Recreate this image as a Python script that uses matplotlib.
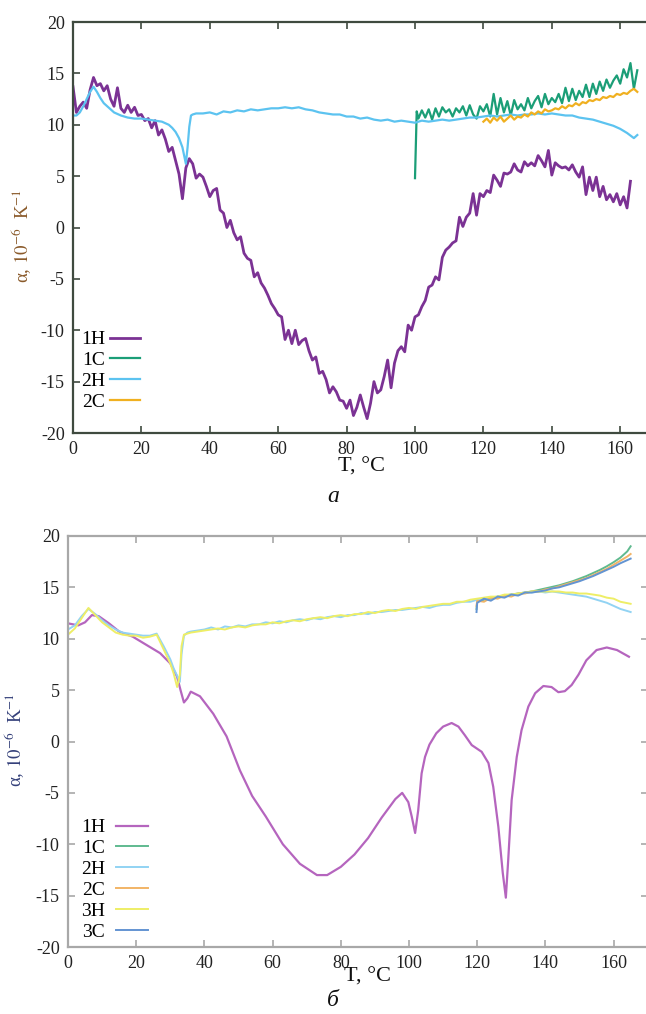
import matplotlib

matplotlib.use("Agg")
import matplotlib.pyplot as plt

# ---- panel a ----
a_1h_t = list(range(0, 164))
a_1h = [13.7, 11.2, 11.8, 12.2, 11.6, 13.4, 14.6, 13.8, 14.0, 13.3,
        13.8, 12.5, 11.8, 13.6, 11.6, 11.2, 11.9, 11.2, 11.7, 10.9,
        11.0, 10.4, 10.6, 9.7, 10.4, 9.0, 9.5, 8.6, 7.4, 7.8,
        6.5, 5.2, 2.8, 5.8, 6.7, 6.2, 4.8, 5.2, 4.9, 4.0,
        3.0, 3.6, 3.8, 1.7, 1.4, 0.0, 0.7, -0.5, -1.2, -0.9,
        -2.5, -3.0, -3.2, -4.8, -4.4, -5.4, -5.9, -6.6, -7.4, -7.9,
        -8.5, -8.7, -10.9, -10.0, -11.3, -10.0, -11.4, -11.0, -10.8, -12.0,
        -12.9, -12.6, -14.2, -14.0, -14.8, -16.1, -15.5, -16.0, -16.8, -16.9,
        -17.6, -16.8, -18.3, -17.5, -16.3, -17.5, -18.6, -17.1, -15.0, -16.1,
        -15.8, -14.5, -12.9, -15.6, -13.2, -12.0, -11.6, -12.1, -9.5, -10.0,
        -8.7, -8.5, -7.7, -7.1, -5.8, -5.6, -4.8, -5.1, -2.9, -2.2,
        -1.9, -1.5, -1.3, 1.0, 0.1, 1.0, 1.4, 3.3, 1.2, 3.3,
        3.0, 3.6, 3.4, 5.1, 4.6, 4.0, 5.3, 5.2, 5.4, 6.2,
        5.6, 5.4, 6.4, 6.0, 6.3, 6.0, 7.0, 6.5, 5.9, 7.5,
        5.1, 6.3, 6.0, 5.8, 5.9, 5.6, 6.1, 5.4, 4.9, 5.9,
        3.2, 4.9, 3.6, 4.9, 3.0, 4.0, 2.7, 3.2, 2.5, 3.3,
        2.2, 3.0, 1.9, 4.5]

a_2h_t = [0, 1, 2, 3, 4, 5, 6, 7, 8, 9, 10, 12, 14, 16, 18, 20, 22, 24, 26, 28,
          29, 30, 31, 32, 32.5, 33, 33.5, 34, 34.5, 35, 36] + list(range(38, 166, 2)) + [165]
a_2h = [10.9, 10.9, 11.2, 11.8, 12.5, 13.2, 13.7, 13.2, 12.6, 12.1,
        11.8, 11.2, 10.9, 10.7, 10.6, 10.6, 10.5, 10.4, 10.3, 10.0,
        9.7, 9.3, 8.7, 7.8, 7.0, 6.2, 7.8, 9.8, 10.9, 11.0, 11.1,
        11.1, 11.2, 11.0, 11.3, 11.2, 11.4, 11.3, 11.5, 11.4, 11.5,
        11.6, 11.6, 11.7, 11.6, 11.7, 11.5, 11.4, 11.2, 11.1, 11.0,
        11.0, 10.8, 10.8, 10.6, 10.7, 10.5, 10.4, 10.5, 10.3, 10.4,
        10.3, 10.2, 10.4, 10.3, 10.4, 10.5, 10.4, 10.5, 10.6, 10.7,
        10.7, 10.8, 10.9, 10.8, 10.9, 11.0, 10.9, 11.0, 11.0, 11.1,
        11.0, 11.1, 11.0, 10.9, 10.9, 10.7, 10.6, 10.5, 10.3, 10.1,
        9.9, 9.6, 9.2, 8.7, 9.0]

a_1c_t = [100, 100.5] + list(range(101, 166))
a_1c = [4.8, 11.3,
        10.6, 11.4, 10.7, 11.5, 10.5, 11.6, 10.8, 11.7, 11.2, 11.5,
        10.8, 11.6, 11.2, 11.8, 10.9, 11.9, 11.0, 10.6, 11.8, 11.3,
        12.0, 10.8, 13.0, 11.0, 12.6, 11.2, 12.3, 10.9, 12.4, 11.5,
        12.0, 11.4, 12.6, 11.6, 12.3, 12.8, 11.7, 13.0, 12.0, 12.6,
        12.2, 13.0, 12.1, 13.6, 12.3, 13.5, 12.4, 13.3, 12.7, 13.9,
        12.7, 14.0, 13.0, 14.2, 13.3, 14.4, 13.6, 14.3, 14.8, 14.0,
        15.4, 14.6, 16.0, 13.5, 15.3]

a_2c_t = list(range(120, 166))
a_2c = [10.3, 10.6, 10.2, 10.7, 10.4, 10.8, 10.3, 10.6, 10.9, 10.5,
        10.8, 10.7, 11.0, 10.8, 11.2, 11.0, 11.3, 11.1, 11.5, 11.3,
        11.4, 11.6, 11.5, 11.8, 11.6, 11.9, 11.8, 12.1, 11.9, 12.2,
        12.1, 12.4, 12.3, 12.5, 12.4, 12.7, 12.6, 12.8, 12.7, 13.0,
        12.9, 13.1, 13.0, 13.3, 13.5, 13.2]

# ---- panel б ----
b_1h_t = [0, 3, 5, 7, 9, 12, 15, 19, 23, 27, 30, 32, 33, 34, 35, 36, 38.7, 42.6,
          46.5, 50.4, 54, 58, 63, 68, 73, 76, 80, 84, 88, 92, 96, 98, 99.8, 100.8,
          101.8, 102.7, 103.7, 104.7, 106, 108, 110, 112.5, 114.5, 116.4, 118.4,
          121.3, 123.3, 124.7, 126.2, 127.5, 128.4, 129.1, 130.1, 131.6, 133, 135,
          137, 139.4, 141.8, 143.8, 145.7, 147.7, 149.7, 152, 155, 158, 161, 164.5]
b_1h = [11.5, 11.3, 11.6, 12.3, 12.2, 11.5, 10.7, 10.2, 9.4, 8.6, 7.6, 6.3, 5.0,
        3.8, 4.2, 4.85, 4.4, 2.7, 0.5, -2.8, -5.3, -7.3, -10.0, -11.9, -13.0,
        -13.0, -12.2, -11.0, -9.4, -7.4, -5.6, -5.0, -5.9, -7.3, -8.9, -6.7, -3.1,
        -1.5, -0.3, 0.8, 1.45, 1.8, 1.45, 0.6, -0.35, -1.0, -2.1, -4.4, -8.3,
        -12.8, -15.2, -11.5, -5.7, -1.5, 1.1, 3.4, 4.7, 5.4, 5.3, 4.8, 4.9, 5.5,
        6.5, 7.9, 8.9, 9.15, 8.9, 8.25]

b_h_t = [0, 2, 4, 6, 8, 10, 12, 14, 16, 18, 20, 22, 24, 26, 28, 30, 31, 32, 32.8,
         33.3, 34, 35, 36] + list(range(38, 164, 2)) + [165]
b_2h = [10.9, 11.3, 12.2, 12.9, 12.4, 11.8, 11.3, 10.9, 10.6, 10.5, 10.4, 10.3,
        10.3, 10.5, 9.3, 8.0, 7.1, 6.4, 5.8, 8.5, 10.3, 10.6, 10.7,
        10.8, 10.9, 11.1, 10.9, 11.2, 11.1, 11.3, 11.2, 11.4, 11.4,
        11.6, 11.5, 11.7, 11.6, 11.8, 11.9, 11.8, 12.0, 11.9, 12.1,
        12.2, 12.1, 12.3, 12.3, 12.5, 12.4, 12.6, 12.6, 12.7, 12.8,
        12.8, 12.9, 13.0, 13.1, 13.0, 13.2, 13.3, 13.3, 13.5, 13.6,
        13.6, 13.8, 13.9, 14.0, 14.1, 14.2, 14.3, 14.4, 14.5, 14.5,
        14.6, 14.5, 14.6, 14.5, 14.4, 14.3, 14.2, 14.1, 13.9, 13.7,
        13.5, 13.2, 12.9, 12.6]
b_3h = [10.4, 11.0, 12.0, 13.0, 12.3, 11.6, 11.1, 10.6, 10.4, 10.3, 10.3, 10.1,
        10.2, 10.4, 9.0, 7.6, 6.6, 5.3, 6.5, 9.3, 10.4, 10.5, 10.6,
        10.7, 10.8, 10.9, 11.0, 10.9, 11.1, 11.2, 11.1, 11.3, 11.4,
        11.4, 11.6, 11.5, 11.7, 11.8, 11.7, 11.9, 12.0, 12.1, 12.0,
        12.2, 12.3, 12.2, 12.4, 12.4, 12.6, 12.5, 12.7, 12.8, 12.7,
        12.9, 13.0, 12.9, 13.1, 13.2, 13.3, 13.4, 13.4, 13.6, 13.6,
        13.8, 13.9, 14.0, 14.1, 14.1, 14.3, 14.3, 14.4, 14.5, 14.6,
        14.6, 14.6, 14.6, 14.6, 14.5, 14.5, 14.4, 14.4, 14.3, 14.2,
        14.0, 13.9, 13.6, 13.4]

b_c_t = [119.8] + list(range(120, 166, 2)) + [165]
b_1c = [12.9, 13.6, 13.8, 13.9, 14.1, 14.2, 14.3, 14.4, 14.5, 14.6, 14.75, 14.9,
        15.05, 15.2, 15.4, 15.6, 15.85, 16.1, 16.4, 16.7, 17.05, 17.45, 17.9,
        18.5, 19.0]
b_2c = [13.2, 13.7, 13.6, 14.0, 13.9, 14.2, 14.1, 14.4, 14.4, 14.6, 14.6, 14.8,
        14.9, 15.1, 15.3, 15.5, 15.7, 15.9, 16.2, 16.5, 16.8, 17.2, 17.6,
        18.0, 18.25]
b_3c = [12.6, 13.5, 13.9, 13.7, 14.1, 14.0, 14.3, 14.2, 14.5, 14.5, 14.6, 14.7,
        14.9, 15.0, 15.2, 15.4, 15.6, 15.85, 16.1, 16.4, 16.7, 17.0, 17.35,
        17.65, 17.8]

x_ticks = list(range(0, 161, 20))
y_ticks = list(range(-20, 21, 5))

W, H = 646, 1014
plt.rcParams["font.family"] = ["Liberation Serif", "DejaVu Serif"]
plt.rcParams["mathtext.fontset"] = "stix"
plt.rcParams["axes.unicode_minus"] = False
fig = plt.figure(figsize=(W / 100, H / 100), dpi=100)


def style_axes(ax, spine_col, right_ticks):
    ax.set_xticks(x_ticks)
    ax.set_yticks(y_ticks)
    ax.set_ylim(-20, 20)
    for side in ("left", "bottom", "top"):
        ax.spines[side].set_color(spine_col)
        ax.spines[side].set_linewidth(1.6)
    ax.spines["right"].set_visible(False)
    ax.tick_params(direction="in", length=5, width=1.2, color=spine_col,
                   labelsize=13, labelcolor="#222222", top=True,
                   right=right_ticks, pad=6)


# panel a
ax1 = fig.add_axes([73 / W, 1 - 433 / H, 574 / W, 411 / H])
ax1.plot(a_1h_t, a_1h, color="#7b3294", lw=2.0, label="1H")
ax1.plot(a_1c_t, a_1c, color="#1b9e77", lw=1.6, label="1C")
ax1.plot(a_2h_t, a_2h, color="#5cc3f0", lw=1.6, label="2H")
ax1.plot(a_2c_t, a_2c, color="#f0b020", lw=1.6, label="2C")
ax1.set_xlim(0, 574 / 3.42)
style_axes(ax1, "#3f4a3f", False)
ax1.legend(loc="upper left", bbox_to_anchor=(71 / W, 1 - 321 / H),
           bbox_transform=fig.transFigure, frameon=False, markerfirst=False,
           fontsize=14, handlelength=1.55, handletextpad=0.25, labelspacing=0.17,
           borderpad=0)

# panel б
ax2 = fig.add_axes([68 / W, 1 - 947 / H, 580 / W, 411 / H])
ax2.plot(b_1h_t, b_1h, color="#b565be", lw=1.6, label="1H")
ax2.plot(b_c_t, b_1c, color="#5fba8f", lw=1.4, label="1C")
ax2.plot(b_h_t, b_2h, color="#92d3f3", lw=1.4, label="2H")
ax2.plot(b_c_t, b_2c, color="#f2b466", lw=1.4, label="2C")
ax2.plot(b_h_t, b_3h, color="#eeee66", lw=1.4, label="3H")
ax2.plot(b_c_t, b_3c, color="#6394d2", lw=1.4, label="3C")
ax2.set_xlim(0, 580 / 3.41)
style_axes(ax2, "#a8a8a8", True)
ax2.legend(loc="upper left", bbox_to_anchor=(71 / W, 1 - 809 / H),
           bbox_transform=fig.transFigure, frameon=False, markerfirst=False,
           fontsize=14, handlelength=1.65, handletextpad=0.55, labelspacing=0.17,
           borderpad=0)

ylab = r"α, $10^{-6}$  K$^{-1}$"
fig.text(22 / W, 1 - 236 / H, ylab, rotation=90, ha="center", va="center",
         fontsize=13.5, color="#8a5a2a")
fig.text(15 / W, 1 - 740 / H, ylab, rotation=90, ha="center", va="center",
         fontsize=13.5, color="#34407a")

fig.text(362 / W, 1 - 467 / H, "T, °C", ha="center", va="center", fontsize=16,
         color="#111111")
fig.text(368 / W, 1 - 977 / H, "T, °C", ha="center", va="center", fontsize=16,
         color="#111111")
fig.text(333 / W, 1 - 497 / H, "а", ha="center", va="center", fontsize=17,
         style="italic", color="#111111")
fig.text(333 / W, 1 - 1000 / H, "б", ha="center", va="center", fontsize=17,
         style="italic", color="#111111")

fig.savefig("out.png", dpi=100)
